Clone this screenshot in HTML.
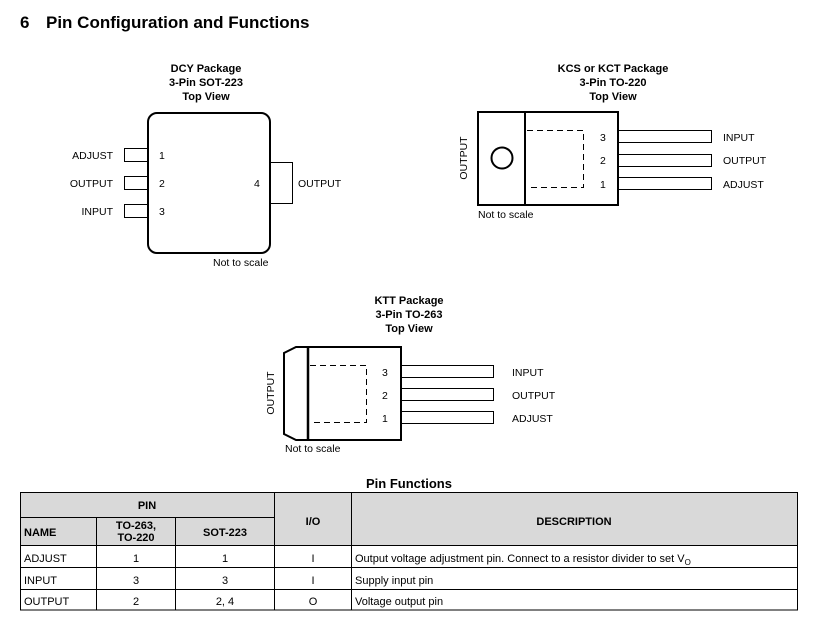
<!DOCTYPE html>
<html><head><meta charset="utf-8"><style>
html,body{margin:0;padding:0;background:#fff;}
svg{display:block;font-family:"Liberation Sans",Arial,sans-serif;}
</style></head><body>
<svg width="828" height="641" viewBox="0 0 828 641" xmlns="http://www.w3.org/2000/svg">
<rect width="828" height="641" fill="#fff"/>
<text x="20" y="28" font-size="17" font-weight="bold">6</text>
<text x="46" y="28" font-size="17" font-weight="bold">Pin Configuration and Functions</text>

<!-- DCY -->
<g font-size="11" font-weight="bold" text-anchor="middle">
<text x="206" y="72">DCY Package</text>
<text x="206" y="86">3-Pin SOT-223</text>
<text x="206" y="100">Top View</text>
</g>
<g fill="none" stroke="#000">
<rect x="124.5" y="148.5" width="24" height="13"/>
<rect x="124.5" y="176.5" width="24" height="13"/>
<rect x="124.5" y="204.5" width="24" height="13"/>
<rect x="269.5" y="162.5" width="23" height="41"/>
<rect x="148" y="113" width="122" height="140" rx="9" stroke-width="2" fill="#fff"/>
</g>
<g font-size="10.5">
<text x="113" y="159" text-anchor="end">ADJUST</text>
<text x="113" y="187" text-anchor="end">OUTPUT</text>
<text x="113" y="215" text-anchor="end">INPUT</text>
<text x="159" y="159">1</text><text x="159" y="187">2</text><text x="159" y="215">3</text>
<text x="254" y="187">4</text>
<text x="298" y="187">OUTPUT</text>
<text x="213" y="266">Not to scale</text>
</g>

<!-- KCS -->
<g font-size="11" font-weight="bold" text-anchor="middle">
<text x="613" y="72">KCS or KCT Package</text>
<text x="613" y="86">3-Pin TO-220</text>
<text x="613" y="100">Top View</text>
</g>
<g fill="none" stroke="#000">
<rect x="618.5" y="130.5" width="93" height="12"/>
<rect x="618.5" y="154.5" width="93" height="12"/>
<rect x="618.5" y="177.5" width="93" height="12"/>
<rect x="478" y="112" width="140" height="93" stroke-width="2"/>
<line x1="525" y1="112" x2="525" y2="205" stroke-width="2"/>
<circle cx="502" cy="158" r="10.5" stroke-width="2"/>
<path d="M527 130.5 H583.5 V187.5 H527" stroke-dasharray="6,4"/>
</g>
<g font-size="10.5">
<text x="600" y="141">3</text><text x="600" y="164">2</text><text x="600" y="188">1</text>
<text x="723" y="141">INPUT</text><text x="723" y="164">OUTPUT</text><text x="723" y="188">ADJUST</text>
<text x="478" y="218">Not to scale</text>
<text transform="translate(467,158) rotate(-90)" text-anchor="middle">OUTPUT</text>
</g>

<!-- KTT -->
<g font-size="11" font-weight="bold" text-anchor="middle">
<text x="409" y="304">KTT Package</text>
<text x="409" y="318">3-Pin TO-263</text>
<text x="409" y="332">Top View</text>
</g>
<g fill="none" stroke="#000">
<rect x="401.5" y="365.5" width="92" height="12"/>
<rect x="401.5" y="388.5" width="92" height="12"/>
<rect x="401.5" y="411.5" width="92" height="12"/>
<path d="M296 347 H401 V440 H296 L284 434 V353 Z" stroke-width="2"/>
<line x1="308" y1="347" x2="308" y2="440" stroke-width="2.5"/>
<path d="M310 365.5 H366.5 V422.5 H310" stroke-dasharray="6,4"/>
</g>
<g font-size="10.5">
<text x="382" y="376">3</text><text x="382" y="399">2</text><text x="382" y="422">1</text>
<text x="512" y="376">INPUT</text><text x="512" y="399">OUTPUT</text><text x="512" y="422">ADJUST</text>
<text x="285" y="452">Not to scale</text>
<text transform="translate(274,393) rotate(-90)" text-anchor="middle">OUTPUT</text>
</g>

<!-- Table -->
<text x="409" y="488" font-size="13" font-weight="bold" text-anchor="middle">Pin Functions</text>
<rect x="20.5" y="492.5" width="777" height="53" fill="#d9d9d9"/>
<g stroke="#000" fill="none">
<rect x="20.5" y="492.5" width="777" height="117.5"/>
<line x1="20" y1="517.5" x2="274" y2="517.5"/>
<line x1="20" y1="545.5" x2="798" y2="545.5"/>
<line x1="20" y1="567.5" x2="798" y2="567.5"/>
<line x1="20" y1="589.5" x2="798" y2="589.5"/>
<line x1="96.5" y1="517" x2="96.5" y2="610"/>
<line x1="175.5" y1="517" x2="175.5" y2="610"/>
<line x1="274.5" y1="492" x2="274.5" y2="610"/>
<line x1="351.5" y1="492" x2="351.5" y2="610"/>
</g>
<g font-size="11" font-weight="bold" text-anchor="middle">
<text x="147" y="509">PIN</text>
<text x="57" y="536" text-anchor="start" x-offset="0" dx="-33">NAME</text>
<text x="136" y="529">TO-263,</text>
<text x="136" y="541">TO-220</text>
<text x="225" y="536">SOT-223</text>
<text x="313" y="525">I/O</text>
<text x="574" y="525">DESCRIPTION</text>
</g>
<g font-size="11">
<text x="24" y="562">ADJUST</text><text x="24" y="584">INPUT</text><text x="24" y="605">OUTPUT</text>
<g text-anchor="middle">
<text x="136" y="562">1</text><text x="136" y="584">3</text><text x="136" y="605">2</text>
<text x="225" y="562">1</text><text x="225" y="584">3</text><text x="225" y="605">2, 4</text>
<text x="313" y="562">I</text><text x="313" y="584">I</text><text x="313" y="605">O</text>
</g>
<text x="355" y="562">Output voltage adjustment pin. Connect to a resistor divider to set V<tspan font-size="8" dy="3">O</tspan></text>
<text x="355" y="584">Supply input pin</text>
<text x="355" y="605">Voltage output pin</text>
</g>
</svg>
</body></html>
